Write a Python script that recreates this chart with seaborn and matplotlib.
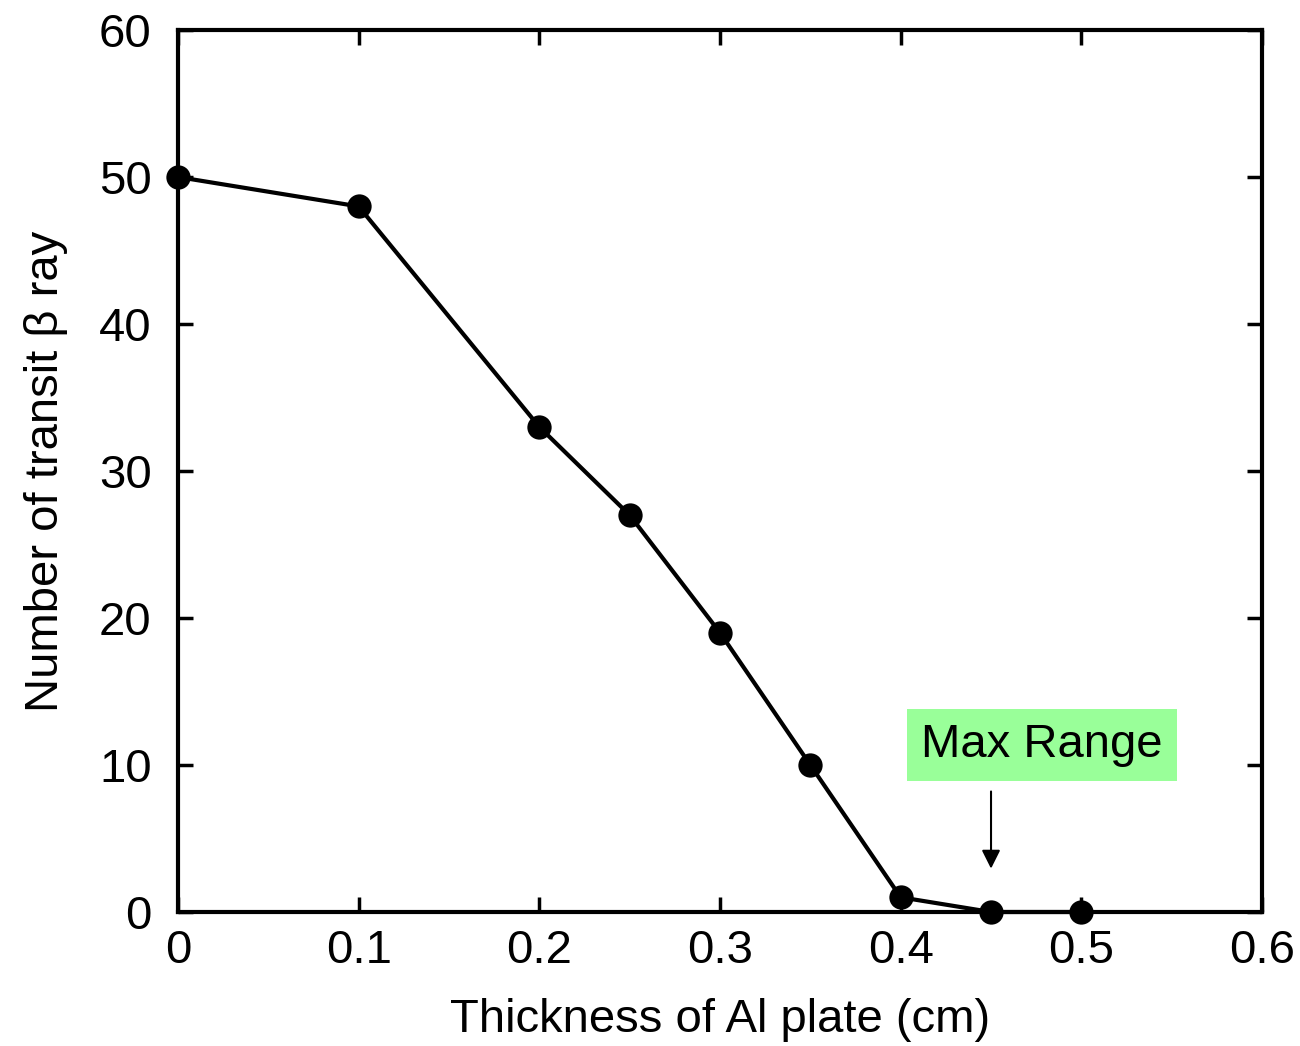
import matplotlib
matplotlib.use("Agg")
import matplotlib.pyplot as plt
import seaborn as sns
import pandas as pd

thickness = [0.0, 0.1, 0.2, 0.25, 0.3, 0.35, 0.4, 0.45, 0.5]
counts = [50, 48, 33, 27, 19, 10, 1, 0, 0]
x_ticks = [0, 0.1, 0.2, 0.3, 0.4, 0.5, 0.6]
x_tick_labels = ["0", "0.1", "0.2", "0.3", "0.4", "0.5", "0.6"]
y_ticks = [0, 10, 20, 30, 40, 50, 60]

sns.set_theme(style="ticks")
plt.rcParams['font.family'] = ['Liberation Sans', 'DejaVu Sans']
plt.rcParams['text.color'] = 'black'
plt.rcParams['axes.labelcolor'] = 'black'

df = pd.DataFrame({"x": thickness, "y": counts})

fig = plt.figure(figsize=(13, 10.46), dpi=100)
ax = fig.add_axes([0.1369, 0.1281, 0.8339, 0.8432])

sns.lineplot(data=df, x="x", y="y", ax=ax, color="black", linewidth=3.0,
             marker="o", markersize=17.5, markeredgewidth=0, clip_on=False,
             sort=False)

ax.set_xlim(0, 0.6)
ax.set_ylim(0, 60)
ax.set_xticks(x_ticks)
ax.set_xticklabels(x_tick_labels)
ax.set_yticks(y_ticks)
ax.tick_params(direction="in", length=11, width=2.5, labelsize=34, colors="black",
               top=True, right=True)
ax.tick_params(axis="x", pad=12)
ax.tick_params(axis="y", pad=19)
for s in ax.spines.values():
    s.set_linewidth(3.0)
    s.set_color("black")

ax.set_xlabel("Thickness of Al plate (cm)", fontsize=34, labelpad=18)
ax.set_ylabel("Number of transit β ray", fontsize=34, labelpad=22)

ax.text(0.4782, 11.35, "Max Range", fontsize=34, ha="center", va="center",
        bbox=dict(boxstyle="square,pad=0.3", facecolor="#99FF99", edgecolor="none"))
ax.annotate("", xy=(0.45, 2.95), xytext=(0.45, 8.2),
            arrowprops=dict(arrowstyle="-|>", color="black", lw=1.5,
                            mutation_scale=28, shrinkA=0, shrinkB=0))

fig.savefig("out.png", dpi=100)
